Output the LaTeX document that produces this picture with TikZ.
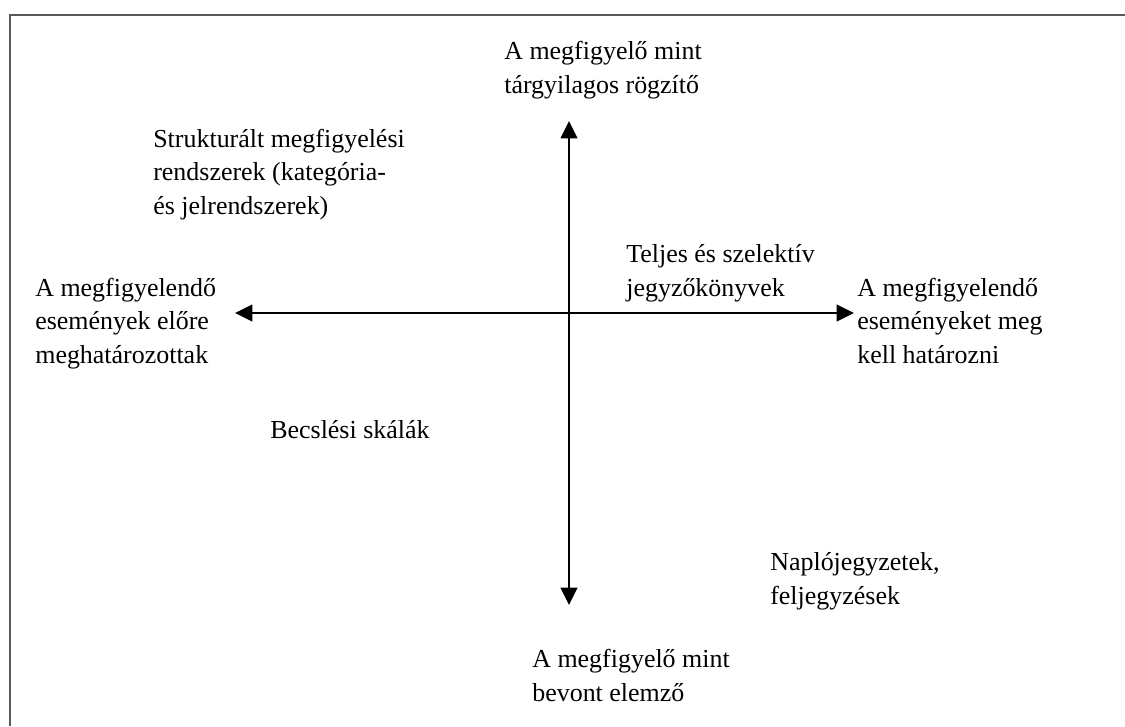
\documentclass[tikz,border=0pt]{standalone}
\usepackage{fontspec}
\setmainfont{Liberation Serif}
\usetikzlibrary{arrows.meta}

\begin{document}
\begin{tikzpicture}[x=0.02222cm,y=-0.02222cm,
  lbl/.style={anchor=base west,inner sep=0pt,align=left,font=\fontsize{16.4}{21}\selectfont},
  axis/.style={line width=1.3pt,{Triangle[length=11pt,width=10.5pt]}-{Triangle[length=11pt,width=10.5pt]}}]
\useasboundingbox (0,0) rectangle (1125,726);
\draw[line width=1.5pt,color=black!65] (10,726) -- (10,15) -- (1125,15); % the frame

\coordinate (Top) at (569,121);
\coordinate (Bottom) at (569,605);
\coordinate (Left) at (235,313);
\coordinate (Right) at (854,313);
\draw[axis] (Top) -- (Bottom);
\draw[axis] (Left) -- (Right);

% base = baseline of the last line
\node[lbl] (Objective) at (504,93) {A megfigyelő mint\\tárgyilagos rögzítő};
\node[lbl] (Involved) at (532,701) {A megfigyelő mint\\bevont elemző};
\node[lbl] (Predefined) at (35,363) {A megfigyelendő\\események előre\\meghatározottak};
\node[lbl] (ToDefine) at (857,363) {A megfigyelendő\\eseményeket meg\\kell határozni};
\node[lbl] (Structured) at (153,214) {Strukturált megfigyelési\\rendszerek (kategória-\\és jelrendszerek)};
\node[lbl] (Records) at (626,296) {Teljes és szelektív\\jegyzőkönyvek};
\node[lbl] (Scales) at (270,438) {Becslési skálák};
\node[lbl] (Diary) at (770,604) {Naplójegyzetek,\\feljegyzések};
\end{tikzpicture}
\end{document}
